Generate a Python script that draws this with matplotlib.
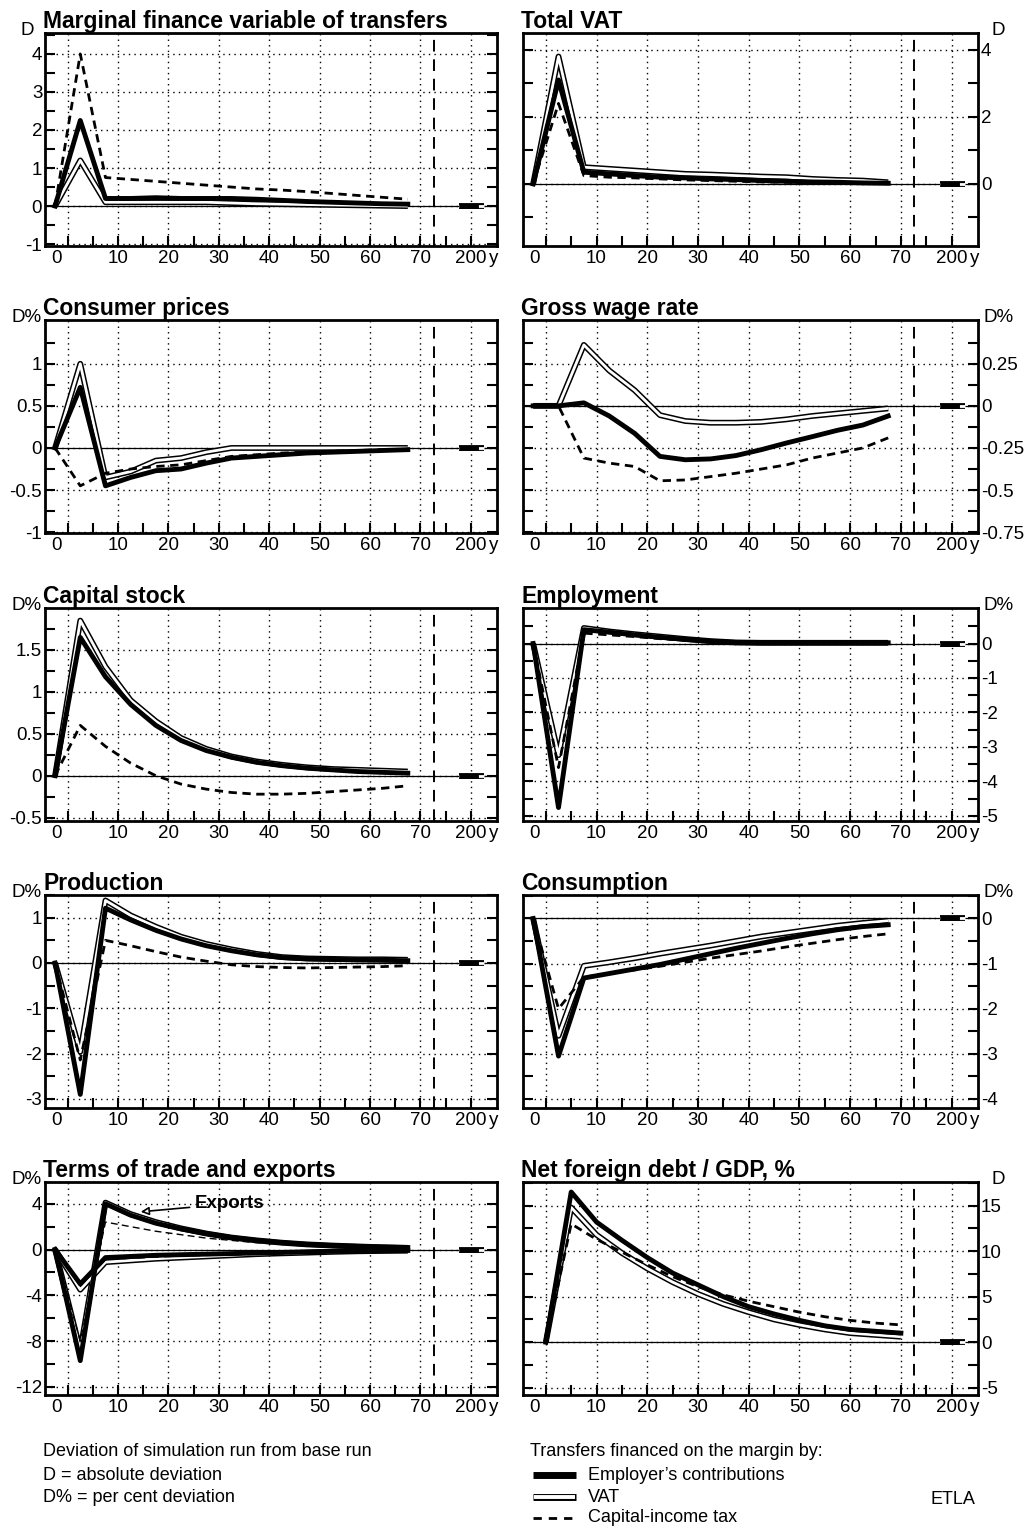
import matplotlib
matplotlib.use("Agg")
import matplotlib.pyplot as plt
import matplotlib.transforms as mtrans
import numpy as np

plt.rcParams['font.family'] = ['Liberation Sans', 'DejaVu Sans']

# time points (model periods, 5-year steps) and steady-state segment ("200")
t = [-2.5, 2.5, 7.5, 12.5, 17.5, 22.5, 27.5, 32.5, 37.5, 42.5, 47.5, 52.5, 57.5, 62.5, 67.5]
t_nfd = [0, 5, 10, 15, 20, 25, 30, 35, 40, 45, 50, 55, 60, 65, 70]
ss_x = [77.7, 82.7]

titles = ["Marginal finance variable of transfers", "Total VAT", "Consumer prices", "Gross wage rate",
          "Capital stock", "Employment", "Production", "Consumption",
          "Terms of trade and exports", "Net foreign debt / GDP, %"]
units = ["D", "D", "D%", "D%", "D%", "D%", "D%", "D%", "D%", "D"]

# series: employer's contributions (emp), VAT (vat), capital-income tax (cap)
fin_emp = [0, 2.25, 0.2, 0.2, 0.22, 0.2, 0.2, 0.2, 0.18, 0.15, 0.12, 0.1, 0.08, 0.06, 0.05]
fin_vat = [0, 1.2, 0.1, 0.1, 0.1, 0.1, 0.1, 0.08, 0.06, 0.05, 0.04, 0.03, 0.02, 0.01, 0.0]
fin_cap = [0, 4.0, 0.75, 0.7, 0.65, 0.6, 0.55, 0.5, 0.45, 0.42, 0.38, 0.33, 0.28, 0.23, 0.18]

vat_emp = [0, 3.1, 0.35, 0.3, 0.25, 0.2, 0.18, 0.15, 0.13, 0.1, 0.08, 0.06, 0.05, 0.03, 0.02]
vat_vat = [0, 3.8, 0.5, 0.45, 0.4, 0.35, 0.3, 0.28, 0.25, 0.22, 0.2, 0.15, 0.12, 0.1, 0.05]
vat_cap = [0, 2.4, 0.25, 0.2, 0.18, 0.15, 0.12, 0.1, 0.08, 0.06, 0.05, 0.04, 0.03, 0.02, 0.01]

cp_emp = [0, 0.72, -0.45, -0.35, -0.27, -0.25, -0.18, -0.12, -0.1, -0.08, -0.06, -0.05, -0.04, -0.03, -0.02]
cp_vat = [0, 1.0, -0.35, -0.28, -0.15, -0.12, -0.05, 0.0, 0.0, 0.0, 0.0, 0.0, 0.0, 0.0, 0.0]
cp_cap = [0, -0.45, -0.3, -0.25, -0.22, -0.2, -0.15, -0.1, -0.08, -0.06, -0.05, -0.04, -0.03, -0.02, -0.02]

gw_emp = [0, 0, 0.018, -0.06, -0.163, -0.3, -0.32, -0.315, -0.295, -0.26, -0.22, -0.183, -0.145, -0.114, -0.06]
gw_vat = [0, 0, 0.362, 0.21, 0.093, -0.055, -0.09, -0.1, -0.1, -0.095, -0.08, -0.06, -0.045, -0.03, -0.015]
gw_cap = [0, 0, -0.31, -0.34, -0.36, -0.445, -0.44, -0.42, -0.4, -0.375, -0.35, -0.31, -0.28, -0.25, -0.19]

ks_emp = [0, 1.65, 1.18, 0.85, 0.6, 0.42, 0.3, 0.22, 0.16, 0.12, 0.09, 0.07, 0.05, 0.04, 0.03]
ks_vat = [0, 1.85, 1.3, 0.9, 0.65, 0.45, 0.32, 0.23, 0.17, 0.13, 0.1, 0.08, 0.07, 0.06, 0.05]
ks_cap = [0, 0.6, 0.35, 0.15, 0.0, -0.1, -0.16, -0.2, -0.22, -0.22, -0.21, -0.19, -0.17, -0.15, -0.12]

em_emp = [0, -4.76, 0.4, 0.33, 0.25, 0.18, 0.12, 0.06, 0.03, 0.02, 0.02, 0.02, 0.02, 0.02, 0.02]
em_vat = [0, -3.24, 0.45, 0.35, 0.27, 0.2, 0.13, 0.07, 0.03, 0.02, 0.02, 0.02, 0.02, 0.02, 0.02]
em_cap = [0, -3.6, 0.3, 0.25, 0.2, 0.14, 0.1, 0.06, 0.04, 0.03, 0.03, 0.03, 0.03, 0.03, 0.03]

pr_emp = [0, -2.9, 1.21, 0.95, 0.72, 0.53, 0.38, 0.27, 0.18, 0.12, 0.09, 0.08, 0.07, 0.06, 0.05]
pr_vat = [0, -1.96, 1.38, 1.05, 0.8, 0.58, 0.42, 0.3, 0.2, 0.13, 0.1, 0.09, 0.08, 0.08, 0.07]
pr_cap = [0, -2.14, 0.5, 0.38, 0.25, 0.13, 0.04, -0.04, -0.08, -0.1, -0.11, -0.1, -0.09, -0.08, -0.06]

co_emp = [0, -3.05, -1.32, -1.22, -1.12, -1.02, -0.9, -0.78, -0.66, -0.55, -0.44, -0.34, -0.25, -0.18, -0.14]
co_vat = [0, -2.6, -1.05, -0.97, -0.88, -0.78, -0.69, -0.6, -0.5, -0.4, -0.32, -0.24, -0.16, -0.1, -0.05]
co_cap = [0, -2.0, -1.3, -1.22, -1.14, -1.06, -0.97, -0.88, -0.8, -0.72, -0.63, -0.55, -0.47, -0.4, -0.34]

tot_emp = [0, -3.0, -0.7, -0.6, -0.5, -0.45, -0.4, -0.35, -0.3, -0.25, -0.2, -0.15, -0.12, -0.1, -0.08]
tot_vat = [0, -3.5, -1.1, -0.95, -0.8, -0.7, -0.6, -0.5, -0.4, -0.33, -0.27, -0.2, -0.15, -0.12, -0.1]
tot_cap = [0, -3.1, -0.8, -0.7, -0.6, -0.5, -0.45, -0.4, -0.35, -0.3, -0.25, -0.2, -0.15, -0.12, -0.1]
ex_emp = [0, -9.7, 4.0, 3.0, 2.3, 1.8, 1.4, 1.05, 0.8, 0.6, 0.45, 0.35, 0.28, 0.22, 0.18]
ex_vat = [0, -8.8, 4.1, 3.1, 2.4, 1.85, 1.4, 1.05, 0.8, 0.6, 0.45, 0.35, 0.27, 0.2, 0.15]
ex_cap = [0, -8.0, 2.4, 2.0, 1.6, 1.3, 1.0, 0.8, 0.6, 0.45, 0.35, 0.25, 0.2, 0.15, 0.1]

nfd_emp = [0, 16.5, 13.2, 11.2, 9.3, 7.6, 6.3, 5.0, 3.9, 3.1, 2.4, 1.8, 1.4, 1.2, 1.0]
nfd_vat = [0, 14.8, 11.8, 9.8, 8.1, 6.6, 5.3, 4.2, 3.3, 2.5, 1.9, 1.4, 1.0, 0.8, 0.6]
nfd_cap = [0, 13.0, 11.3, 9.9, 8.5, 7.2, 6.1, 5.2, 4.5, 3.9, 3.3, 2.8, 2.4, 2.1, 1.9]

ylims = [(-1.05, 4.55), (-1.85, 4.5), (-1.01, 1.52), (-0.755, 0.51), (-0.54, 2.0),
         (-5.15, 1.03), (-3.2, 1.5), (-4.2, 0.52), (-12.7, 5.9), (-5.8, 17.6)]
yticks = [[-1, 0, 1, 2, 3, 4], [-2, 0, 2, 4], [-1, -0.5, 0, 0.5, 1], [-0.75, -0.5, -0.25, 0, 0.25],
          [-0.5, 0, 0.5, 1, 1.5], [-5, -4, -3, -2, -1, 0], [-3, -2, -1, 0, 1], [-4, -3, -2, -1, 0],
          [-12, -8, -4, 0, 4], [-5, 0, 5, 10, 15]]
yticklabels = [["-1", "0", "1", "2", "3", "4"], ["-2", "0", "2", "4"], ["-1", "-0.5", "0", "0.5", "1"],
               ["-0.75", "-0.5", "-0.25", "0", "0.25"], ["-0.5", "0", "0.5", "1", "1.5"],
               ["-5", "-4", "-3", "-2", "-1", "0"], ["-3", "-2", "-1", "0", "1"], ["-4", "-3", "-2", "-1", "0"],
               ["-12", "-8", "-4", "0", "4"], ["-5", "0", "5", "10", "15"]]

series = [(fin_emp, fin_vat, fin_cap), (vat_emp, vat_vat, vat_cap), (cp_emp, cp_vat, cp_cap),
          (gw_emp, gw_vat, gw_cap), (ks_emp, ks_vat, ks_cap), (em_emp, em_vat, em_cap),
          (pr_emp, pr_vat, pr_cap), (co_emp, co_vat, co_cap)]

W, H = 1030, 1529
fig = plt.figure(figsize=(W / 100, H / 100), dpi=100)
row_tops = [33, 320, 608, 895, 1182]
box_h = 213
col_x = [(45, 452), (523, 455)]
TFS = 13.5

def draw_vat(ax, x, y):
    ax.plot(x, y, color='black', lw=4.2, solid_capstyle='butt', zorder=4)
    ax.plot(x, y, color='white', lw=2.0, solid_capstyle='butt', zorder=5)

def draw_emp(ax, x, y):
    ax.plot(x, y, color='black', lw=3.5, zorder=6)

def draw_cap(ax, x, y, lw=2.0, dashes=(3, 2)):
    ax.plot(x, y, color='black', lw=lw, dashes=dashes, zorder=7)

for i in range(10):
    r, c = divmod(i, 2)
    x0, w = col_x[c]
    ax = fig.add_axes([x0 / W, 1 - (row_tops[r] + box_h) / H, w / W, box_h / H])
    ax.set_xlim(-4.5, 85.2)
    for s in ax.spines.values():
        s.set_linewidth(2)
    ax.set_xticks([0, 10, 20, 30, 40, 50, 60, 70, 80])
    ax.set_xticks(list(np.arange(0, 85, 5)), minor=True)
    ax.set_xticklabels([])
    ax.set_yticks(yticks[i])
    ax.set_yticklabels(yticklabels[i], fontsize=TFS)
    yt = yticks[i]
    step = yt[1] - yt[0]
    ax.set_yticks([v + step / 2 for v in yt[:-1]] + [yt[-1] + step / 2], minor=True)
    ax.set_ylim(*ylims[i])
    ax.grid(True, which='major', linestyle=(0, (1, 3)), color='black', lw=1.0)
    ax.tick_params(which='both', direction='in', top=False, bottom=True, left=True, right=True,
                   width=1.5, length=7)
    if c == 0:
        ax.tick_params(axis='y', labelleft=True, labelright=False, pad=2)
        ax.text(-0.04, 1.01, units[i], transform=ax.transAxes, fontsize=TFS, ha='center', va='center')
    else:
        ax.tick_params(axis='y', labelleft=False, labelright=True, pad=2)
        ax.text(1.045, 1.01, units[i], transform=ax.transAxes, fontsize=TFS, ha='center', va='center')
    ax.axhline(0, color='black', lw=0.9, zorder=3)
    ax.axvline(72.6, color='black', lw=1.4, dashes=(6, 4), zorder=3)
    trans = mtrans.blended_transform_factory(ax.transData, ax.transAxes)
    for xv, lab in zip([-2.2, 10, 20, 30, 40, 50, 60, 70, 80], ["0", "10", "20", "30", "40", "50", "60", "70", "200"]):
        ax.text(xv, -0.02, lab, transform=trans, ha='center', va='top', fontsize=TFS)
    ax.text(84.6, -0.02, "y", transform=trans, ha='center', va='top', fontsize=TFS)
    ax.set_title(titles[i], loc='left', fontsize=16.5, fontweight='bold', pad=2, x=-0.004)

    if i < 8:
        e, v, cp = series[i]
        draw_vat(ax, t, v)
        draw_emp(ax, t, e)
        draw_cap(ax, t, cp)
    elif i == 8:
        draw_vat(ax, t, ex_vat)
        draw_emp(ax, t, ex_emp)
        draw_cap(ax, t, ex_cap, lw=1.0, dashes=(5, 3))
        draw_vat(ax, t, tot_vat)
        draw_emp(ax, t, tot_emp)
        draw_cap(ax, t, tot_cap)
        ax.annotate("Exports", xy=(14.5, 3.3), xytext=(25.3, 4.0), fontsize=TFS, fontweight='bold',
                    va='center', ha='left',
                    arrowprops=dict(arrowstyle='-|>', fc='white', ec='black', lw=1.2,
                                    mutation_scale=12, shrinkA=2, shrinkB=0), zorder=10)
    else:
        draw_vat(ax, t_nfd, nfd_vat)
        draw_emp(ax, t_nfd, nfd_emp)
        draw_cap(ax, t_nfd, nfd_cap)
    # steady state ("200") segment
    draw_vat(ax, ss_x, [0, 0])
    ax.plot(ss_x, [0, 0], color='black', lw=3.5, dashes=(4, 6), zorder=6)

# footnotes and legend
fs = 13
fig.text(43 / W, 1 - 1452 / H, "Deviation of simulation run from base run", fontsize=fs, va='center')
fig.text(43 / W, 1 - 1475 / H, "D = absolute deviation", fontsize=fs, va='center')
fig.text(43 / W, 1 - 1497 / H, "D% = per cent deviation", fontsize=fs, va='center')
fig.text(530 / W, 1 - 1452 / H, "Transfers financed on the margin by:", fontsize=fs, va='center')
fig.text(588 / W, 1 - 1475 / H, "Employer’s contributions", fontsize=fs, va='center')
fig.text(588 / W, 1 - 1497 / H, "VAT", fontsize=fs, va='center')
fig.text(588 / W, 1 - 1518 / H, "Capital-income tax", fontsize=fs, va='center')
fig.text(930 / W, 1 - 1500 / H, "ETLA", fontsize=fs, va='center')
lax = fig.add_axes([0, 0, 1, 1], facecolor='none')
lax.set_xlim(0, W)
lax.set_ylim(H, 0)
lax.axis('off')
lax.plot([533, 576], [1475, 1475], color='black', lw=5, solid_capstyle='butt')
lax.plot([533, 576], [1497, 1497], color='black', lw=5, solid_capstyle='butt')
lax.plot([534, 575], [1497, 1497], color='white', lw=2.8, solid_capstyle='butt')
lax.plot([533, 576], [1518, 1518], color='black', lw=2, dashes=(3, 2.5))

fig.savefig("out.png", dpi=100)
